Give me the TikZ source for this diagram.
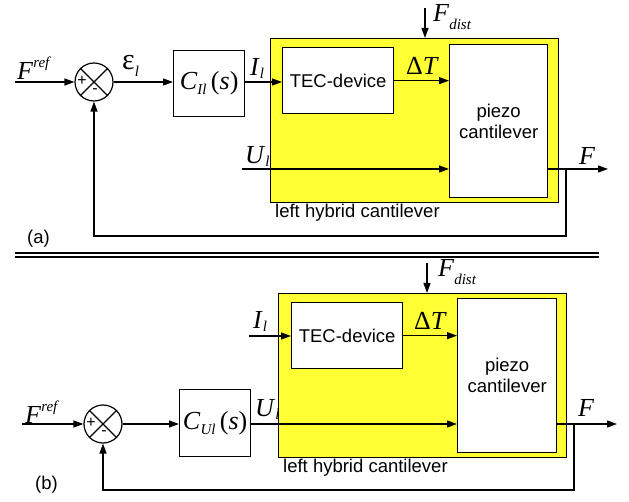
\documentclass[tikz,border=0pt]{standalone}
\usepackage{fontspec}
\setmainfont{Liberation Sans}
\newfontfamily\tms{Liberation Serif}
\usetikzlibrary{arrows.meta}
\definecolor{hybyellow}{RGB}{255,255,51}
\newcommand\lab{\fontsize{26}{26}\selectfont\tms}
\newcommand\sansbig{\fontsize{18.5}{21}\selectfont}
\newcommand\lsup[1]{\raisebox{12pt}{\fontsize{15}{15}\selectfont\itshape #1}}
\newcommand\lsub[2][6pt]{\raisebox{-#1}{\fontsize{15}{15}\selectfont\itshape #2}}
\begin{document}
\begin{tikzpicture}[x=1pt,y=-1pt,
  arr/.style={-{Triangle[length=10pt,width=7pt]}, line width=1.2pt},
  ln/.style={line width=1.2pt},
  blk/.style={draw, line width=1.3pt, fill=white, inner sep=0pt, anchor=north west, font=\sansbig, align=center},
  hyb/.style={draw, line width=1.3pt, fill=hybyellow, inner sep=0pt, anchor=north west},
  sumc/.style={circle, draw, line width=1.2pt, minimum size=38pt, inner sep=0pt, fill=white},
  lbl/.style={inner sep=0pt, font=\lab, anchor=base west},
  captxt/.style={inner sep=0pt, font=\sansbig, anchor=base west},
  sgn/.style={inner sep=0pt, font=\fontsize{16}{16}\selectfont}
]
\useasboundingbox (0,0) rectangle (629,502);

% ================= panel (a) =================
\node[hyb, minimum width=288pt, minimum height=164pt] (Hy1) at (270,38) {};
\node[blk, minimum width=111pt, minimum height=66pt] (TEC1) at (282,47) {TEC-device};
\node[blk, minimum width=98pt, minimum height=153pt] (Pz1) at (449,44) {piezo\\cantilever};
\node[blk, minimum width=71pt, minimum height=66pt] (C1) at (173,50) {\lab\textit{C}\lsub[5pt]{Il}\,(\textit{s})};
\node[sumc] (S1) at (94,82) {};
\draw[ln] (S1.45) -- (S1.225) (S1.135) -- (S1.315);
\node[sgn] (S1p) at ([xshift=-12pt,yshift=1pt]S1.center) {+};
\node[sgn] (S1m) at ([xshift=1pt,yshift=-9pt]S1.center) {-};

\coordinate (In1) at (15,82);
\coordinate (U1) at (242,169);
\coordinate (Out1) at (608,169);
\coordinate (T1) at (566,169);
\coordinate (D1) at (425,8);

\draw[arr] (In1) -- (S1.west);
\draw[arr] (S1.east) -- (S1.east -| C1.west);
\draw[arr] (S1.east -| C1.east) -- (S1.east -| TEC1.west);
\draw[arr] (TEC1.east) -- (TEC1.east -| Pz1.west);
\draw[arr] (U1) -- (U1 -| Pz1.west);
\draw[arr] (U1 -| Pz1.east) -- (Out1);
\draw[arr] (T1) -- ++(0,67) -| (S1.south);
\draw[arr] (D1) -- (D1 |- Hy1.north);

\node[lbl] (lFr1) at (17,80) {\textit{F}\lsup{ref}};
\node[lbl] (le1) at (122,70) {{\fontsize{30}{30}\selectfont ε}\lsub[7pt]{l}};
\node[lbl] (lI1) at (250,76) {\textit{I}\lsub[3pt]{l}};
\node[lbl] (lD1) at (406,75) {Δ\textit{T}};
\node[lbl] (lU1) at (245,164) {\textit{U}\lsub[3pt]{l}};
\node[lbl] (lF1) at (579,165) {\textit{F}};
\node[lbl] (lFd1) at (433,22) {\textit{F}\lsub[8pt]{dist}};
\node[captxt] (cap1) at (275,218) {left hybrid cantilever};
\node[captxt] (pa) at (27,244) {(a)};

% separator
\draw[ln] (15,253) coordinate (Sa) -- (599,253) coordinate (Sb);
\draw[ln] (15,257) coordinate (Sc) -- (599,257) coordinate (Sd);

% ================= panel (b) =================
\node[hyb, minimum width=288pt, minimum height=164pt] (Hy2) at (278,293) {};
\node[blk, minimum width=111pt, minimum height=66pt] (TEC2) at (291,302) {TEC-device};
\node[blk, minimum width=99pt, minimum height=154pt] (Pz2) at (457,298) {piezo\\cantilever};
\node[blk, minimum width=71pt, minimum height=67pt] (C2) at (179,389) {\lab\textit{C}\lsub[5pt]{Ul}\,(\textit{s})};
\node[sumc] (S2) at (103,424) {};
\draw[ln] (S2.45) -- (S2.225) (S2.135) -- (S2.315);
\node[sgn] (S2p) at ([xshift=-12pt,yshift=1pt]S2.center) {+};
\node[sgn] (S2m) at ([xshift=1pt,yshift=-9pt]S2.center) {-};

\coordinate (In2) at (22,424);
\coordinate (I2) at (249,336);
\coordinate (Out2) at (617,424);
\coordinate (T2) at (574,424);
\coordinate (D2) at (427,263);

\draw[arr] (In2) -- (S2.west);
\draw[arr] (S2.east) -- (S2.east -| C2.west);
\draw[arr] (S2.east -| C2.east) -- (S2.east -| Pz2.west);
\draw[arr] (I2) -- (I2 -| TEC2.west);
\draw[arr] (TEC2.east) -- (TEC2.east -| Pz2.west);
\draw[arr] (S2.east -| Pz2.east) -- (Out2);
\draw[arr] (T2) -- ++(0,66) -| (S2.south);
\draw[arr] (D2) -- (D2 |- Hy2.north);

\node[lbl] (lFr2) at (25,423) {\textit{F}\lsup{ref}};
\node[lbl] (lU2) at (255,416) {\textit{U}\lsub[3pt]{l}};
\node[lbl] (lI2) at (253,329) {\textit{I}\lsub[3pt]{l}};
\node[lbl] (lD2) at (414,330) {Δ\textit{T}};
\node[lbl] (lF2) at (578,417) {\textit{F}};
\node[lbl] (lFd2) at (438,277) {\textit{F}\lsub[8pt]{dist}};
\node[captxt] (cap2) at (283,472) {left hybrid cantilever};
\node[captxt] (pb) at (35,489) {(b)};
\end{tikzpicture}
\end{document}
